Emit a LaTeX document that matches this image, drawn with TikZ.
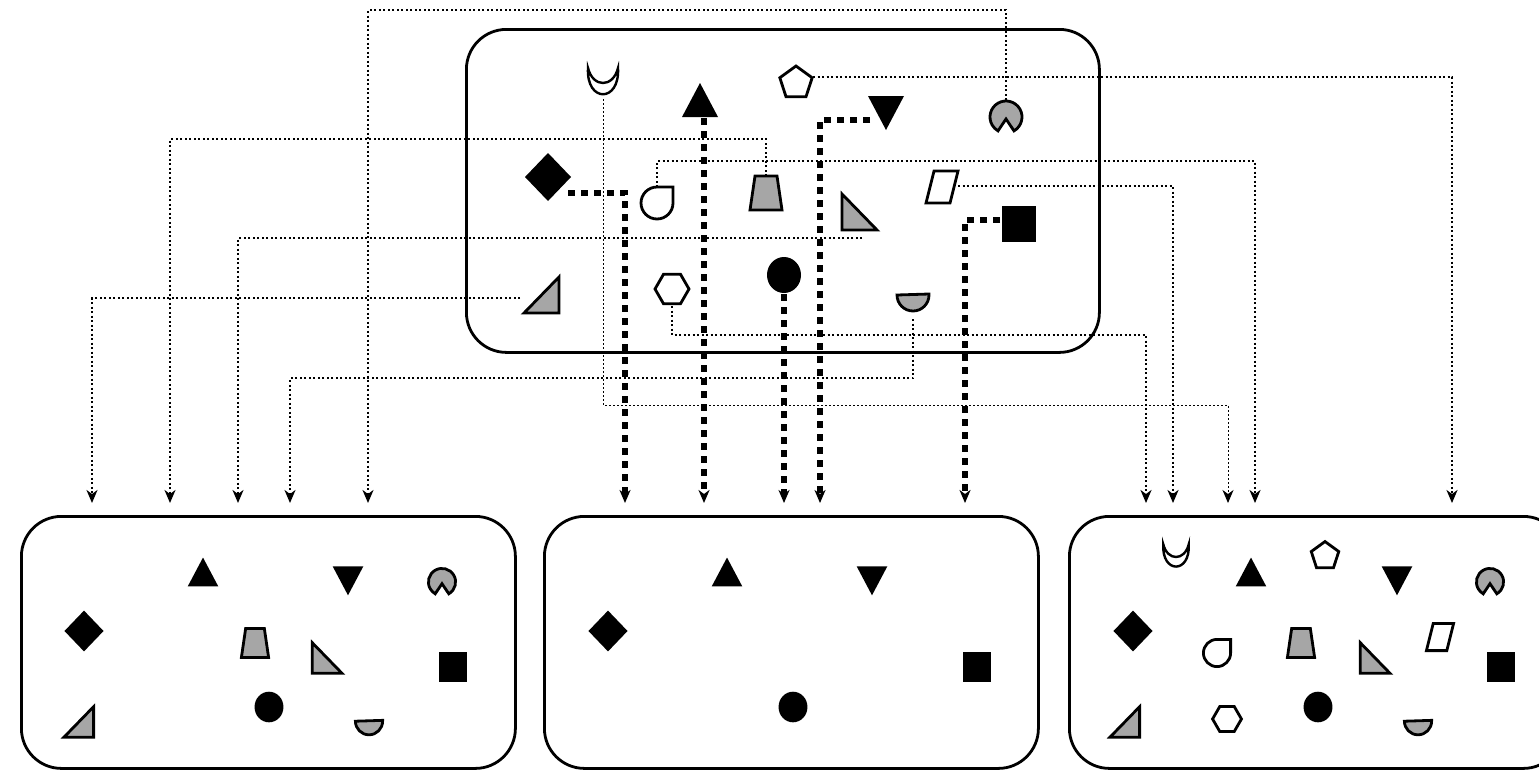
\documentclass[tikz,border=0pt]{standalone}
\usetikzlibrary{arrows.meta,calc}
\definecolor{gf}{HTML}{A6A6A6}
\tikzset{
  x=1pt,y=-1pt,
  sh/.style={line width=2.8,line join=miter},
  box/.style={draw,line width=2.8,rounded corners=40},
  thk/.style={line width=5.5,dash pattern=on 7 off 6,-{Stealth[length=13pt,width=11pt,inset=4pt]}},
  thn/.style={line width=2,dash pattern=on 2 off 2.5,-{Stealth[length=13pt,width=11pt,inset=4pt]}},
  thnn/.style={line width=1,dash pattern=on 2 off 2,-{Stealth[length=13pt,width=11pt,inset=4pt]}},
  anc/.style={inner sep=0,minimum size=34},
  triup/.pic={\fill (-18,17)--(18,17)--(0,-17)--cycle;},
  tridn/.pic={\fill (-18,-16)--(18,-16)--(0,18)--cycle;},
  dia/.pic={\fill (0,-24)--(23,0)--(0,24)--(-23,0)--cycle;},
  sq/.pic={\fill (-17,-18) rectangle (17,18);},
  circ/.pic={\fill (0,0) ellipse[x radius=17,y radius=18];},
  pent/.pic={\draw[sh,fill=white] (90:-17)--(162:-17)--(234:-17)--(306:-17)--(18:-17)--cycle;},
  hex/.pic={\draw[sh,fill=white] (0:17)--(60:17)--(120:17)--(180:17)--(240:17)--(300:17)--cycle;},
  pac/.pic={\draw[sh,fill=gf] (0,2)--(60:16) arc[start angle=60,end angle=-240,radius=16]--cycle;},
  semi/.pic={\draw[sh,fill=gf] (-16,-8)--(16,-9)--(16,-8) arc[start angle=0,end angle=180,radius=16]--cycle;},
  moon/.pic={\draw[line width=2.4,fill=white] (-15,-15) .. controls (-17,20) and (17,20) .. (15,-15) .. controls (10,5) and (-10,5) .. (-15,-15)--cycle;},
  tear/.pic={\draw[sh,fill=white] (0,-16)--(16,-16)--(16,0) arc[start angle=0,end angle=270,radius=16]--cycle;},
  trap/.pic={\draw[sh,fill=gf] (-11,-17)--(11,-17)--(16,17)--(-16,17)--cycle;},
  para/.pic={\draw[sh,fill=white] (-8,-16)--(16,-16)--(8,16)--(-16,16)--cycle;},
  rtri/.pic={\draw[sh,fill=gf] (-15,-18)--(-15,18)--(20,18)--cycle;},
  gtri/.pic={\draw[sh,fill=gf] (16,-18)--(16,18)--(-19,18)--cycle;},
}
\begin{document}
\begin{tikzpicture}
\useasboundingbox (0,0) rectangle (1539,769);
\clip (0,0) rectangle (1539,769);
\node[box,anchor=north west,minimum width=633,minimum height=323,inner sep=0] (top) at (465,28) {};
\node[box,anchor=north west,minimum width=494,minimum height=252,inner sep=0] (bl) at (20,515) {};
\node[box,anchor=north west,minimum width=494,minimum height=252,inner sep=0] (bm) at (543,515) {};
\node[box,anchor=north west,minimum width=494,minimum height=252,inner sep=0] (br) at (1068,515) {};
\node[anc] (Tmoon) at (603,83) {};
\node[anc] (Ttri) at (700,100) {};
\node[anc] (Tpent) at (796,83) {};
\node[anc] (Ttdn) at (886,112) {};
\node[anc] (Tpac) at (1006,117) {};
\node[anc] (Tdia) at (548,177) {};
\node[anc] (Ttear) at (657,203) {};
\node[anc] (Ttrap) at (766,193) {};
\node[anc] (Trt) at (857,212) {};
\node[anc] (Tpara) at (942,187) {};
\node[anc] (Tsq) at (1019,224) {};
\node[anc] (Tgt) at (543,295) {};
\node[anc] (Thex) at (672,289) {};
\node[anc] (Tcirc) at (784,275) {};
\node[anc] (Tsemi) at (913,303) {};
\foreach \n/\x in {e1/92,e2/170,e3/238,e4/290,e5/368,m1/625,m2/704,m3/784,m4/820,m5/965,r1/1146,r2/1173,r3/1228,r4/1255,r5/1452}
  \coordinate (\n) at (\x,503);
\draw[thn] ($(Tgt)+(-23,3)$) -| (e1);
\draw[thn] ($(Ttrap)+(0,-17)$) -- ++(0,-37) -| (e2);
\draw[thn] ($(Trt)+(5,26)$) -| (e3);
\draw[thn] ($(Tsemi)+(0,16)$) -- ++(0,59) -| (e4);
\draw[thn] ($(Tpac)+(0,-17)$) -- ++(0,-90) -| (e5);
\draw[thn] ($(Thex)+(0,17)$) -- ++(0,29) -| (r1);
\draw[thn] ($(Tpara)+(16,-1)$) -| (r2);
\draw[thnn] ($(Tmoon)+(0,16)$) -- ++(0,306) -| (r3);
\draw[thn] ($(Ttear)+(0,-16)$) -- ++(0,-26) -| (r4);
\draw[thn] ($(Tpent)+(17,-6)$) -| (r5);
\draw[thk] ($(Tdia)+(20,16)$) -| (m1);
\draw[thk] ($(Ttri)+(4,18)$) -- (m2);
\draw[thk] ($(Tcirc)+(0,19)$) -- (m3);
\draw[thk] ($(Ttdn)+(-16,8)$) -| (m4);
\draw[thk] ($(Tsq)+(-19,-4)$) -| (m5);
\pic at (Tmoon) {moon};
\pic at (Ttri) {triup};
\pic at (Tpent) {pent};
\pic at (Ttdn) {tridn};
\pic at (Tpac) {pac};
\pic at (Tdia) {dia};
\pic at (Ttear) {tear};
\pic at (Ttrap) {trap};
\pic at (Trt) {rtri};
\pic at (Tpara) {para};
\pic at (Tsq) {sq};
\pic at (Tgt) {gtri};
\pic at (Thex) {hex};
\pic at (Tcirc) {circ};
\pic at (Tsemi) {semi};
\begin{scope}[shift={(20,515)}]
\pic[scale=0.85] at (183,57) {triup};
\pic[scale=0.85] at (328,65) {tridn};
\pic[scale=0.85] at (422,67) {pac};
\pic[scale=0.85] at (64,116) {dia};
\pic[scale=0.85] at (235,128) {trap};
\pic[scale=0.85] at (305,143) {rtri};
\pic[scale=0.85] at (433,152) {sq};
\pic[scale=0.85] at (60,207) {gtri};
\pic[scale=0.85] at (249,192) {circ};
\pic[scale=0.85] at (349,213) {semi};
\end{scope}
\begin{scope}[shift={(543,515)}]
\pic[scale=0.85] at (184,57) {triup};
\pic[scale=0.85] at (329,65) {tridn};
\pic[scale=0.85] at (65,116) {dia};
\pic[scale=0.85] at (434,152) {sq};
\pic[scale=0.85] at (250,192) {circ};
\end{scope}
\begin{scope}[shift={(1068,515)}]
\pic[scale=0.85] at (108,42) {moon};
\pic[scale=0.85] at (183,57) {triup};
\pic[scale=0.85] at (257,41) {pent};
\pic[scale=0.85] at (329,65) {tridn};
\pic[scale=0.85] at (422,67) {pac};
\pic[scale=0.85] at (65,116) {dia};
\pic[scale=0.85] at (149,138) {tear};
\pic[scale=0.85] at (233,128) {trap};
\pic[scale=0.85] at (305,143) {rtri};
\pic[scale=0.85] at (372,122) {para};
\pic[scale=0.85] at (433,152) {sq};
\pic[scale=0.85] at (58,207) {gtri};
\pic[scale=0.85] at (159,204) {hex};
\pic[scale=0.85] at (250,192) {circ};
\pic[scale=0.85] at (350,213) {semi};
\end{scope}
\end{tikzpicture}
\end{document}
